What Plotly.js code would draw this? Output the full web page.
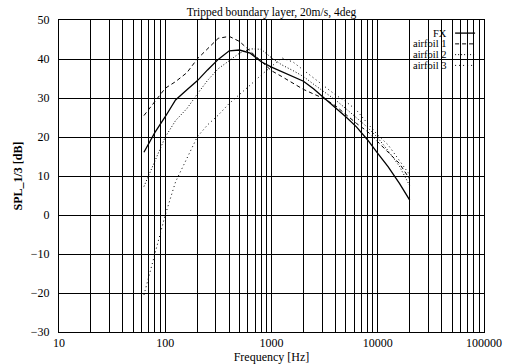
<!DOCTYPE html>
<html>
<head>
<meta charset="utf-8">
<script src="https://cdn.plot.ly/plotly-3.0.1.min.js"></script>
<style>html,body{margin:0;padding:0;background:#fff;}#chart{width:515px;height:364px;}</style>
</head>
<body>
<div id="chart"></div>
<script>
// 1/3-octave band centre frequencies [Hz]
const freqs = [63, 80, 100, 125, 160, 200, 250, 315, 400, 500, 630, 800, 1000, 1250, 1600, 2000, 2500, 3150, 4000, 5000, 6300, 8000, 10000, 12500, 16000, 20000];
const fx       = [16.1, 21.2, 25.2, 29.5, 32.1, 34.4, 37.2, 39.9, 42.1, 42.3, 41.5, 39.3, 37.9, 36.8, 35.6, 34.3, 32.3, 30.0, 27.6, 25.2, 22.6, 19.3, 15.8, 12.4, 8.1, 3.8];
const airfoil1 = [25.5, 29.0, 32.5, 34.2, 36.5, 40.0, 42.6, 45.3, 45.8, 44.5, 42.0, 39.5, 37.0, 35.5, 33.8, 32.2, 31.0, 29.8, 28.0, 25.8, 23.5, 21.4, 18.8, 16.2, 13.2, 9.2];
const airfoil2 = [7.3, 13.7, 20.0, 24.2, 27.3, 31.0, 34.5, 37.5, 39.6, 41.5, 42.6, 42.5, 40.3, 38.5, 37.0, 35.5, 33.5, 31.5, 29.5, 27.3, 25.0, 22.5, 19.8, 16.5, 12.5, 7.5];
const airfoil3 = [-20.5, -10.0, 0.0, 8.5, 14.7, 20.0, 23.1, 25.6, 28.6, 30.8, 33.3, 35.9, 38.0, 40.3, 39.2, 37.2, 35.0, 32.9, 30.8, 29.1, 26.9, 23.5, 20.5, 18.0, 14.1, 10.3];
const seriesNames = ["FX", "airfoil 1", "airfoil 2", "airfoil 3"];
const yTicks = [-30, -20, -10, 0, 10, 20, 30, 40, 50];
const xDecades = [10, 100, 1000, 10000, 100000];

const styles = [
  {dash: "solid", width: 1.3},
  {dash: "4px,3px", width: 1},
  {dash: "1px,2px", width: 1},
  {dash: "1px,3px", width: 1}
];
const values = [fx, airfoil1, airfoil2, airfoil3];

const traces = values.map((v, i) => ({
  x: freqs, y: v, type: "scatter", mode: "lines", name: seriesNames[i],
  line: {color: "#000", width: styles[i].width, dash: styles[i].dash},
  showlegend: false, hoverinfo: "skip"
}));

// x grid at every 1..9 x decade
const xTickVals = [], xTickText = [];
for (let d = 0; d < xDecades.length; d++) {
  for (let m = 1; m <= 9; m++) {
    const v = xDecades[d] * m;
    if (v > 100000) break;
    xTickVals.push(v);
    xTickText.push(m === 1 ? String(v) : "");
  }
}

const fam = "Liberation Serif, DejaVu Serif, serif";
const font = {family: fam, size: 12, color: "#000"};
const legFont = {family: fam, size: 10.5, color: "#000"};

// gnuplot-style legend: text right-aligned, sample on the right
const annotations = [], shapes = [];
const legTop = 0.958, legStep = 0.0345;
seriesNames.forEach((n, i) => {
  const yy = legTop - i * legStep;
  annotations.push({xref: "paper", yref: "paper", x: 0.915, y: yy, xanchor: "right", yanchor: "middle",
    text: n, showarrow: false, font: legFont, borderpad: 0});
  shapes.push({type: "line", xref: "paper", yref: "paper", x0: 0.932, x1: 0.979, y0: yy, y1: yy,
    line: {color: "#000", width: styles[i].width, dash: styles[i].dash}});
});

const layout = {
  width: 515, height: 364,
  margin: {l: 59, r: 31, t: 20, b: 32, pad: 0},
  paper_bgcolor: "#fff", plot_bgcolor: "#fff",
  font: font,
  title: {text: "Tripped boundary layer, 20m/s, 4deg", font: {family: fam, size: 11.5, color: "#000"},
          x: 0.5, xref: "paper", y: 0.967, yref: "container", yanchor: "middle"},
  xaxis: {
    type: "log", range: [1, 5], tickvals: xTickVals, ticktext: xTickText,
    showgrid: true, gridcolor: "#000", gridwidth: 1, showline: true, mirror: true, linecolor: "#000", linewidth: 1,
    ticks: "", zeroline: false, tickfont: font, ticklabelstandoff: 0,
    title: {text: "Frequency [Hz]", font: font, standoff: 0}
  },
  yaxis: {
    range: [-30, 50], tickvals: yTicks, showgrid: true, gridcolor: "#000", gridwidth: 1,
    showline: true, mirror: true, linecolor: "#000", linewidth: 1, ticks: "", zeroline: false,
    tickfont: font, ticklabelstandoff: 6,
    title: {text: "<b>SPL_1/3 [dB]</b>", font: font, standoff: 5}
  },
  annotations: annotations, shapes: shapes, showlegend: false
};

Plotly.newPlot("chart", traces, layout, {displayModeBar: false, staticPlot: true});
</script>
</body>
</html>
